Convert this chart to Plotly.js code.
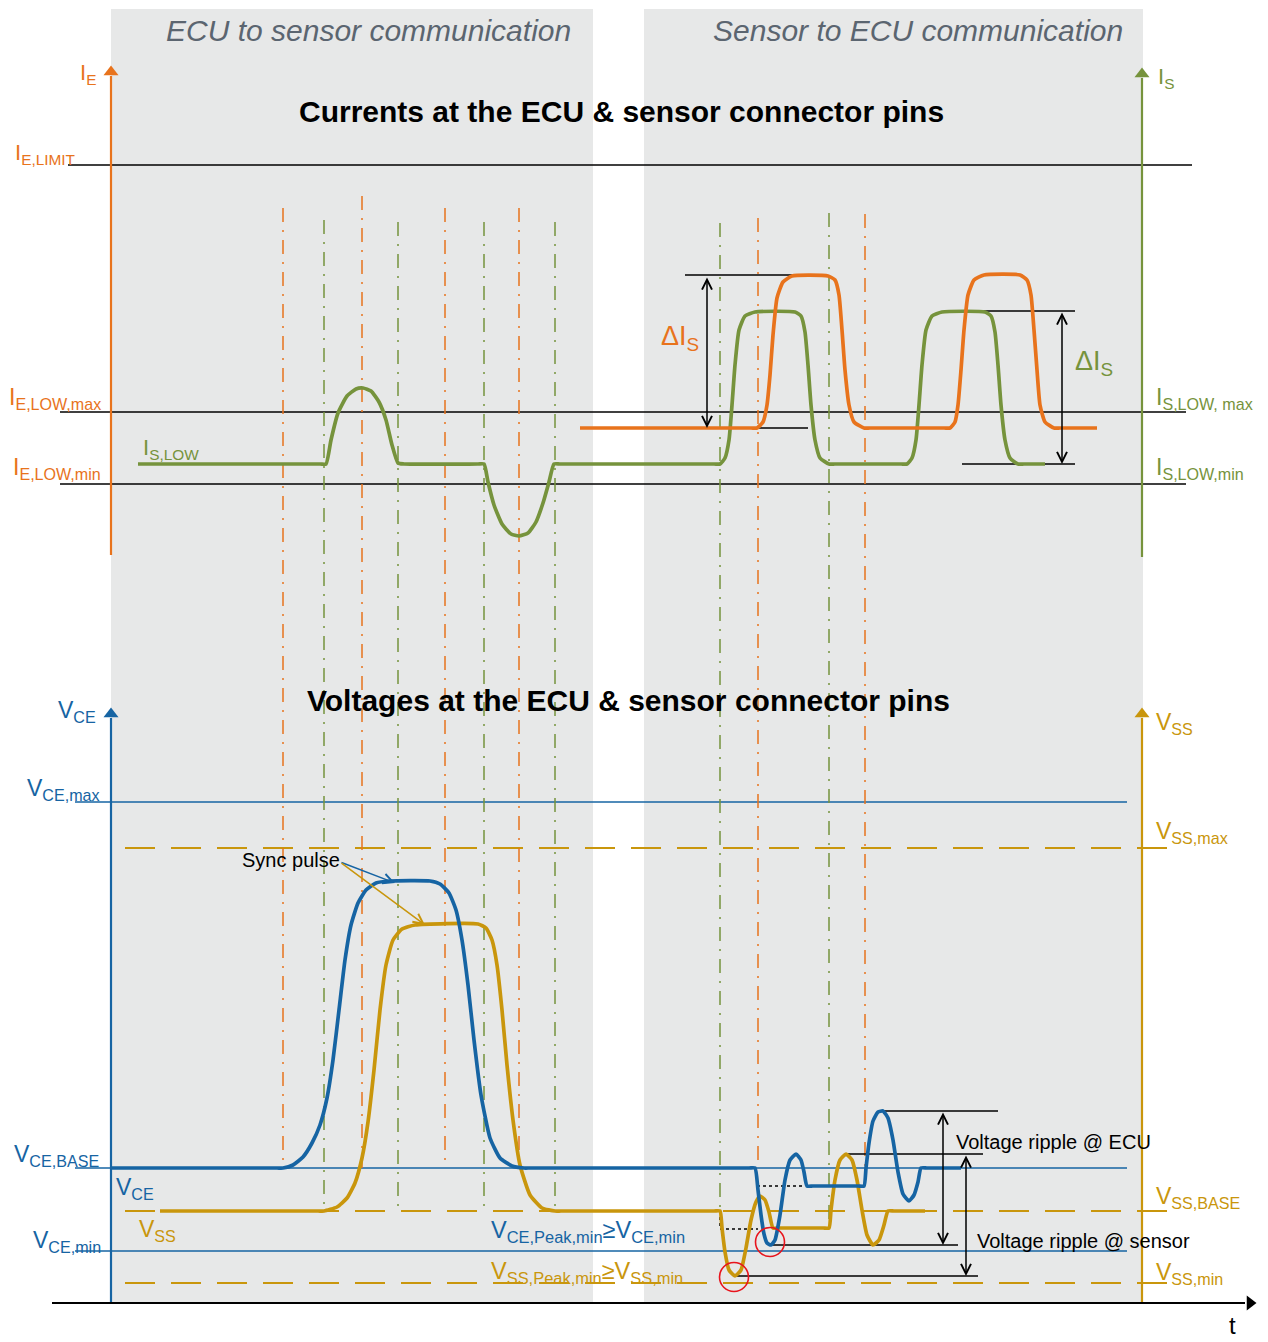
<!DOCTYPE html>
<html><head><meta charset="utf-8">
<script src="https://cdn.plot.ly/plotly-3.0.1.min.js"></script>
<style>html,body{margin:0;padding:0;background:#fff}#chart{width:1268px;height:1342px}</style>
</head><body><div id="chart"></div>
<script>
// ---------- data (schematic levels & waveforms) ----------
// Current at sensor I_S (green)
const isX = [138,320,326,331,338,347,356,363,371,379,386,392,398,404,478,484,488,494,502,511,519,528,536,543,549,554,560,714,720,725,729,732,735,739,745,755,795,801,805,808,811,815,820,829,835,901,907,912,916,919,922,926,932,942,985,991,995,998,1001,1005,1010,1018,1024,1045];
const isY = [464,464,464,440,413,396,389,388,391,402,420,445,463,464,464,464,482,505,524,534,536,533,522,503,482,464,464,464,464,458,440,405,365,330,316,312,312,316,332,365,405,440,458,464,464,464,464,458,440,405,365,330,316,312,312,316,332,365,405,440,458,464,464,464];
// Current at ECU I_E (orange)
const ieX = [580,751,757,763,767,770,773,777,783,792,828,835,839,842,845,849,854,864,870,944,950,955,958,961,964,968,974,984,1020,1027,1031,1034,1037,1040,1045,1054,1060,1097];
const ieY = [428,428,428,422,405,375,335,298,282,276,276,280,295,330,370,405,422,428,428,428,428,422,405,370,330,295,280,275,275,280,295,330,370,405,422,428,428,428];
// Voltage at ECU V_CE (blue)
const vceX = [111,277,283,293,303,312,320,327,333,339,345,351,358,366,376,390,430,440,449,456,462,468,474,481,490,500,512,524,530,749,755,758,761,764,767,771,775,780,785,790,796,801,804,807,813,858,864,866,869,873,878,883,888,893,898,903,909,914,918,921,927,961];
const vceY = [1168,1168,1168,1165,1157,1143,1125,1098,1060,1010,960,925,903,890,883,881,881,884,893,910,940,985,1040,1095,1138,1158,1166,1168,1168,1168,1168,1190,1215,1234,1243,1245,1240,1215,1180,1160,1154,1160,1172,1186,1186,1186,1186,1168,1143,1121,1112,1111,1118,1140,1172,1194,1201,1195,1182,1168,1168,1168];
// Voltage at sensor V_SS (gold)
const vssX = [160,318,324,337,347,355,362,368,374,380,386,393,402,415,478,486,492,497,502,507,513,520,530,542,555,561,714,720,722,725,729,735,741,746,751,756,760,765,769,773,779,823,829,831,835,840,846,852,857,862,867,873,879,884,888,894,925];
const vssY = [1211,1211,1211,1207,1198,1183,1158,1122,1070,1010,965,940,929,925,924,928,940,965,1010,1065,1120,1165,1195,1208,1211,1211,1211,1211,1228,1252,1270,1276,1270,1248,1220,1202,1196,1200,1212,1228,1228,1228,1228,1210,1180,1160,1154,1160,1180,1210,1235,1245,1240,1225,1211,1211,1211];

// Timing markers (vertical dash-dot guides)
const orangeMarkX   = [283,362,445,519,758,865];
const orangeMarkTop = [208,196,208,208,218,214];
const orangeMarkBot = [1168,1168,1168,1168,1168,1186];
const greenMarkX    = [324,398,484,555,720,829];
const greenMarkTop  = [220,222,222,222,223,213];
const greenMarkBot  = [1210,1210,1210,1210,1210,1228];

// Reference levels (horizontal)
const refLevel = ['IE_LIMIT','IE_LOW_MAX','IE_LOW_MIN','VCE_MAX','VSS_MAX','VCE_BASE','VSS_BASE','VCE_MIN','VSS_MIN'];
const refY  = [165,412,484,802,848,1168,1211,1251,1283];
const refX0 = [68,60,60,75,125,75,125,75,125];
const refX1 = [1192,1186,1186,1127,1180,1127,1180,1127,1180];

// Measurement extension lines [x0,x1,y]
const extX0 = [685,685,960,962,880,770,848,734];
const extX1 = [800,808,1075,1075,998,958,983,978];
const extY  = [275,428,311,464,1111,1245,1154,1276];
// Measurement double arrows
const dimX  = [707,1062,943,966];
const dimY0 = [276,311,1111,1154];
const dimY1 = [428,464,1245,1276];
// Peak minima (red circles)
const peakX = [734,770];
const peakY = [1277,1242];

// ---------- styles ----------
const ORANGE='#e8731c', GREEN='#76933c', BLUE='#1664a3', GOLD='#c9960c', PANEL='#e7e8e8';
const FONT='Liberation Sans, Arial, sans-serif';

const traces = [];
function addLine(x,y,color,width,dash,shape){
  traces.push({type:'scatter',mode:'lines',x:x,y:y,hoverinfo:'skip',showlegend:false,
    line:{color:color,width:width,dash:dash||'solid',shape:shape||'linear',smoothing:0.5}});
}
// reference levels
const refColor = {IE_LIMIT:'#000',IE_LOW_MAX:'#000',IE_LOW_MIN:'#000',VCE_MAX:BLUE,VSS_MAX:GOLD,VCE_BASE:BLUE,VSS_BASE:GOLD,VCE_MIN:BLUE,VSS_MIN:GOLD};
refLevel.forEach((n,i)=>{
  const isGold = n.startsWith('VSS');
  addLine([refX0[i],refX1[i]],[refY[i],refY[i]],refColor[n],isGold?2:1.6,isGold?'30px,16px':'solid');
});
// timing markers
orangeMarkX.forEach((x,i)=>addLine([x,x],[orangeMarkTop[i],orangeMarkBot[i]],ORANGE,1.5,'14px,8px,2px,8px'));
greenMarkX.forEach((x,i)=>addLine([x,x],[greenMarkTop[i],greenMarkBot[i]],GREEN,1.5,'14px,8px,2px,8px'));
// axes
addLine([111,111],[555,76],ORANGE,2.2);
addLine([1142,1142],[557,78],GREEN,2.2);
addLine([111,111],[1303,718],BLUE,2.2);
addLine([1142,1142],[1303,718],GOLD,2.2);
addLine([52,1245],[1303,1303],'#000',2.2);
traces.push({type:'scatter',mode:'markers',hoverinfo:'skip',showlegend:false,
  x:[111,1142,111,1142,1250],y:[72,74,714,714,1303],
  marker:{symbol:['triangle-up','triangle-up','triangle-up','triangle-up','triangle-right'],size:13,
    color:[ORANGE,GREEN,BLUE,GOLD,'#000'],line:{width:0}}});
// extension lines
extY.forEach((y,i)=>addLine([extX0[i],extX1[i]],[y,y],'#000',1.6));
// dotted helper lines
addLine([720,720,758],[1211,1229,1229],'#000',1.5,'dot');
addLine([757,805],[1186,1186],'#000',1.5,'dot');
// waveforms
addLine(vssX,vssY,GOLD,3.7,'solid','spline');
addLine(vceX,vceY,BLUE,3.7,'solid','spline');
addLine(isX,isY,GREEN,3.7,'solid','spline');
addLine(ieX,ieY,ORANGE,3.7,'solid','spline');
// red circles
traces.push({type:'scatter',mode:'markers',x:peakX,y:peakY,hoverinfo:'skip',showlegend:false,
  marker:{symbol:'circle-open',size:29,color:'#e8141c',line:{width:1.6,color:'#e8141c'}}});

// ---------- annotations ----------
const ann = [];
function lab(x,y,t,color,size,opts){
  ann.push(Object.assign({x:x,y:y,xref:'x',yref:'y',text:t,showarrow:false,xanchor:'left',yanchor:'middle',
    font:{family:FONT,size:size,color:color}},opts||{}));
}
lab(368,30,'<i>ECU to sensor communication</i>','#5b6570',30,{xanchor:'center'});
lab(918,30,'<i>Sensor to ECU communication</i>','#5b6570',30,{xanchor:'center'});
lab(621,111,'<b>Currents at the ECU &amp; sensor connector pins</b>','#000',30,{xanchor:'center'});
lab(628,700,'<b>Voltages at the ECU &amp; sensor connector pins</b>','#000',30,{xanchor:'center'});
lab(78,74,'I<sub>E</sub>',ORANGE,22);
lab(13,154,'I<sub>E,LIMIT</sub>',ORANGE,22);
lab(7,398,'I<sub>E,LOW,max</sub>',ORANGE,23);
lab(11,468,'I<sub>E,LOW,min</sub>',ORANGE,23);
lab(141,449,'I<sub>S,LOW</sub>',GREEN,22);
lab(1156,78,'I<sub>S</sub>',GREEN,22);
lab(1154,398,'I<sub>S,LOW, max</sub>',GREEN,23);
lab(1154,468,'I<sub>S,LOW,min</sub>',GREEN,23);
lab(659,338,'ΔI<sub>S</sub>',ORANGE,27);
lab(1073,363,'ΔI<sub>S</sub>',GREEN,27);
lab(56,711,'V<sub>CE</sub>',BLUE,23);
lab(25,789,'V<sub>CE,max</sub>',BLUE,23);
lab(1154,723,'V<sub>SS</sub>',GOLD,23);
lab(1154,832,'V<sub>SS,max</sub>',GOLD,23);
lab(12,1155,'V<sub>CE,BASE</sub>',BLUE,23);
lab(114,1188,'V<sub>CE</sub>',BLUE,23);
lab(137,1230,'V<sub>SS</sub>',GOLD,23);
lab(31,1241,'V<sub>CE,min</sub>',BLUE,23);
lab(489,1231,'V<sub>CE,Peak,min</sub>≥V<sub>CE,min</sub>',BLUE,23.5);
lab(489,1272,'V<sub>SS,Peak,min</sub>≥V<sub>SS,min</sub>',GOLD,23.5);
lab(1154,1197,'V<sub>SS,BASE</sub>',GOLD,23);
lab(1154,1273,'V<sub>SS,min</sub>',GOLD,23);
lab(240,860,'Sync pulse','#000',20);
lab(954,1142,'Voltage ripple @ ECU','#000',20);
lab(975,1241,'Voltage ripple @ sensor','#000',20);
lab(1227,1325,'t','#000',24);
// double-headed dimension arrows
dimX.forEach((x,i)=>ann.push({x:x,y:dimY1[i],ax:x,ay:dimY0[i],xref:'x',yref:'y',axref:'x',ayref:'y',text:'',
  showarrow:true,arrowhead:5,startarrowhead:5,arrowside:'end+start',arrowsize:1.3,startarrowsize:1.3,arrowwidth:1.5,arrowcolor:'#000'}));
// sync pulse pointers
ann.push({x:395,y:883,ax:340,ay:862,xref:'x',yref:'y',axref:'x',ayref:'y',text:'',showarrow:true,arrowhead:5,arrowsize:1.3,arrowwidth:1.5,arrowcolor:BLUE});
ann.push({x:425,y:925,ax:340,ay:862,xref:'x',yref:'y',axref:'x',ayref:'y',text:'',showarrow:true,arrowhead:5,arrowsize:1.3,arrowwidth:1.5,arrowcolor:GOLD});

const layout = {
  width:1268,height:1342,margin:{l:0,r:0,t:0,b:0},
  paper_bgcolor:'#fff',plot_bgcolor:'#fff',showlegend:false,
  xaxis:{range:[0,1268],visible:false,fixedrange:true},
  yaxis:{range:[1342,0],visible:false,fixedrange:true},
  shapes:[
    {type:'rect',xref:'x',yref:'y',x0:111,x1:593,y0:9,y1:1302,fillcolor:PANEL,line:{width:0},layer:'below'},
    {type:'rect',xref:'x',yref:'y',x0:644,x1:1143,y0:9,y1:1302,fillcolor:PANEL,line:{width:0},layer:'below'}
  ],
  annotations:ann
};
Plotly.newPlot('chart',traces,layout,{staticPlot:true,displayModeBar:false});
</script></body></html>
